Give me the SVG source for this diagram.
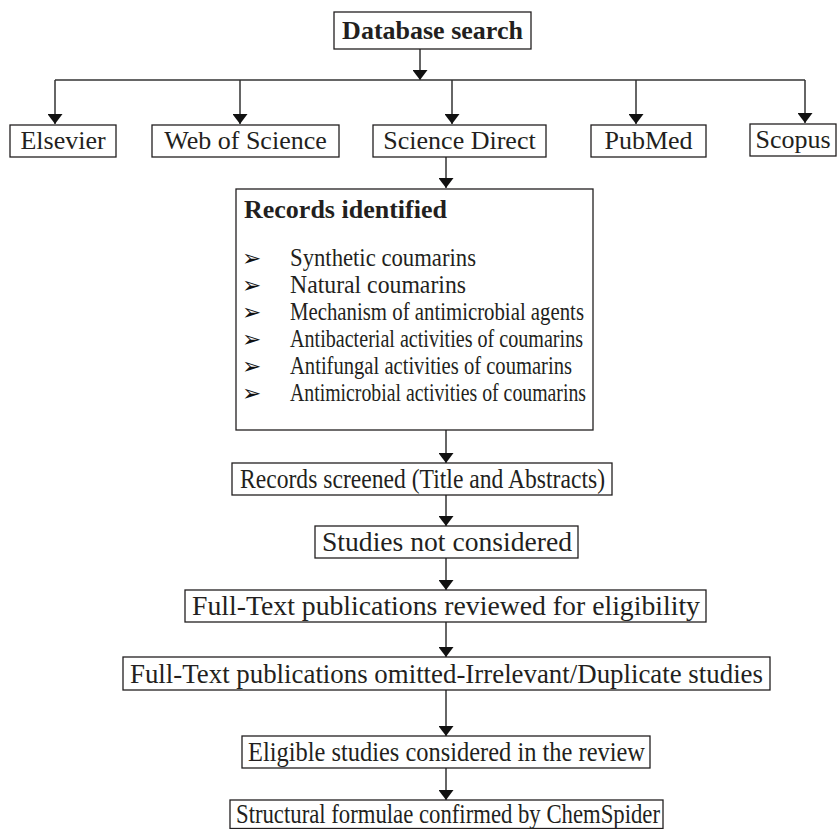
<svg xmlns="http://www.w3.org/2000/svg" width="839" height="829" viewBox="0 0 839 829">
<style>
.box{fill:#fff;stroke:#231f20;stroke-width:1.3}
.t{font-family:"Liberation Serif","Times New Roman",serif;font-size:26px;fill:#231f20}
.c{font-size:27px}
.b{font-weight:bold}
.m{text-anchor:middle}
.ln{stroke:#333;stroke-width:1.5;fill:none}
.bul{font-family:"DejaVu Sans",sans-serif;font-size:23px;fill:#111}
</style>
<defs>
<marker id="ah" viewBox="0 0 10 15" refX="10" refY="7.5" markerWidth="10" markerHeight="15" markerUnits="userSpaceOnUse" orient="auto">
<path d="M0,0 L10,7.5 L0,15 Z" fill="#111"/>
</marker>
</defs>
<rect width="839" height="829" fill="#fff"/>
<g id="connectors">
<line class="ln" x1="420" y1="49" x2="420" y2="80" marker-end="url(#ah)"/>
<line class="ln" x1="55" y1="80" x2="805" y2="80"/>
<line class="ln" x1="55" y1="80" x2="55" y2="124" marker-end="url(#ah)"/>
<line class="ln" x1="240" y1="80" x2="240" y2="124" marker-end="url(#ah)"/>
<line class="ln" x1="452" y1="80" x2="452" y2="124" marker-end="url(#ah)"/>
<line class="ln" x1="636" y1="80" x2="636" y2="124" marker-end="url(#ah)"/>
<line class="ln" x1="805" y1="80" x2="805" y2="123" marker-end="url(#ah)"/>
<line class="ln" x1="446" y1="157" x2="446" y2="188" marker-end="url(#ah)"/>
<line class="ln" x1="446" y1="430" x2="446" y2="463" marker-end="url(#ah)"/>
<line class="ln" x1="446" y1="495" x2="446" y2="526" marker-end="url(#ah)"/>
<line class="ln" x1="446" y1="558" x2="446" y2="590" marker-end="url(#ah)"/>
<line class="ln" x1="446" y1="622" x2="446" y2="657" marker-end="url(#ah)"/>
<line class="ln" x1="446" y1="690" x2="446" y2="736" marker-end="url(#ah)"/>
<line class="ln" x1="446" y1="768" x2="446" y2="800" marker-end="url(#ah)"/>
</g>
<g id="database-search">
<rect class="box" x="334" y="12" width="197" height="37"/>
<text class="t b m" x="432.5" y="39">Database search</text>
</g>
<g id="elsevier">
<rect class="box" x="10" y="125" width="106" height="32"/>
<text class="t m" x="63" y="149">Elsevier</text>
</g>
<g id="web-of-science">
<rect class="box" x="152" y="125" width="187" height="32"/>
<text class="t m" x="245.5" y="149">Web of Science</text>
</g>
<g id="science-direct">
<rect class="box" x="373" y="125" width="173" height="32"/>
<text class="t m" x="459.5" y="149">Science Direct</text>
</g>
<g id="pubmed">
<rect class="box" x="591" y="125" width="115" height="32"/>
<text class="t m" x="648.5" y="149">PubMed</text>
</g>
<g id="scopus">
<rect class="box" x="750" y="124" width="86" height="32"/>
<text class="t m" x="793" y="148">Scopus</text>
</g>
<g id="records-identified">
<rect class="box" x="236" y="189" width="357" height="241"/>
<text class="t b" x="244" y="218">Records identified</text>
<text class="bul" x="242" y="266">➢</text>
<text class="t" x="290" y="266" textLength="186" lengthAdjust="spacingAndGlyphs">Synthetic coumarins</text>
<text class="bul" x="242" y="293">➢</text>
<text class="t" x="290" y="293" textLength="176" lengthAdjust="spacingAndGlyphs">Natural coumarins</text>
<text class="bul" x="242" y="320">➢</text>
<text class="t" x="290" y="320" textLength="294" lengthAdjust="spacingAndGlyphs">Mechanism of antimicrobial agents</text>
<text class="bul" x="242" y="347">➢</text>
<text class="t" x="290" y="347" textLength="293" lengthAdjust="spacingAndGlyphs">Antibacterial activities of coumarins</text>
<text class="bul" x="242" y="374">➢</text>
<text class="t" x="290" y="374" textLength="282" lengthAdjust="spacingAndGlyphs">Antifungal activities of coumarins</text>
<text class="bul" x="242" y="401">➢</text>
<text class="t" x="290" y="401" textLength="296" lengthAdjust="spacingAndGlyphs">Antimicrobial activities of coumarins</text>
</g>
<g id="records-screened">
<rect class="box" x="232" y="463" width="380" height="32"/>
<text class="t c" x="240" y="488" textLength="365" lengthAdjust="spacingAndGlyphs">Records screened (Title and Abstracts)</text>
</g>
<g id="studies-not-considered">
<rect class="box" x="315" y="526" width="263" height="32"/>
<text class="t c" x="322" y="551" textLength="250" lengthAdjust="spacingAndGlyphs">Studies not considered</text>
</g>
<g id="full-text-reviewed">
<rect class="box" x="185" y="590" width="521" height="32"/>
<text class="t c" x="192" y="615" textLength="508" lengthAdjust="spacingAndGlyphs">Full-Text publications reviewed for eligibility</text>
</g>
<g id="full-text-omitted">
<rect class="box" x="123" y="657" width="647" height="33"/>
<text class="t c" x="130" y="683" textLength="633" lengthAdjust="spacingAndGlyphs">Full-Text publications omitted-Irrelevant/Duplicate studies</text>
</g>
<g id="eligible-studies">
<rect class="box" x="242" y="736" width="408" height="32"/>
<text class="t c" x="248" y="761" textLength="397" lengthAdjust="spacingAndGlyphs">Eligible studies considered in the review</text>
</g>
<g id="structural-formulae">
<rect class="box" x="230" y="800" width="433" height="28.5"/>
<text class="t c" x="236" y="823" textLength="424" lengthAdjust="spacingAndGlyphs">Structural formulae confirmed by ChemSpider</text>
</g>
</svg>
